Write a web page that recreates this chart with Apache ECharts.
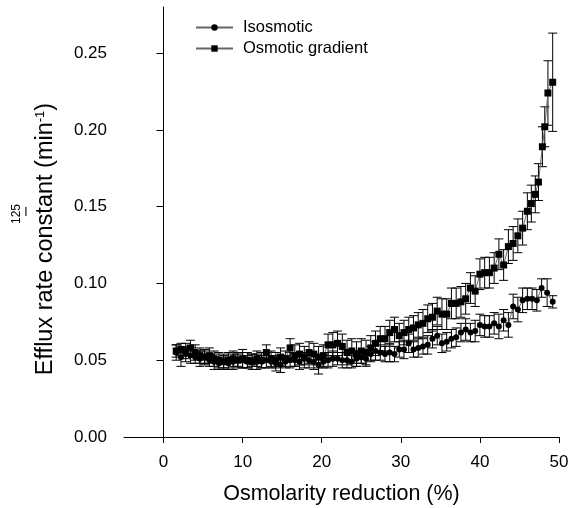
<!DOCTYPE html>
<html>
<head>
<meta charset="utf-8">
<script src="https://cdn.jsdelivr.net/npm/echarts@6/dist/echarts.min.js"></script>
<style>
  html, body { margin: 0; padding: 0; background: #fff; }
  #chart { width: 569px; height: 508px; }
</style>
</head>
<body>
<div id="chart"></div>
<script>
// osmolarity reduction (%) for each sample
var xIso = [1.6, 2.2, 2.8, 3.4, 4.0, 4.6, 5.2, 5.8, 6.4, 7.0, 7.6, 8.2, 8.8, 9.4, 10.0, 10.6, 11.2, 11.8, 12.4, 13.0,
  13.6, 14.2, 14.8, 15.4, 16.0, 16.6, 17.2, 17.8, 18.4, 19.0, 19.6, 20.2, 20.8, 21.4, 22.0, 22.6, 23.2, 23.8, 24.4, 25.0,
  25.6, 26.2, 26.8, 27.4, 28.0, 28.6, 29.2, 29.8, 30.4, 31.0, 31.6, 32.2, 32.8, 33.4, 34.0, 34.6, 35.2, 35.8, 36.4, 37.0,
  37.6, 38.2, 38.8, 39.4, 40.0, 40.6, 41.2, 41.8, 42.4, 43.0, 43.6, 44.2, 44.8, 45.4, 46.0, 46.6, 47.2, 47.8, 48.5, 49.2];
var yIso = [0.055, 0.052, 0.054, 0.053, 0.052, 0.051, 0.052, 0.050, 0.049, 0.048, 0.049, 0.048, 0.049, 0.050, 0.050, 0.049, 0.050, 0.049, 0.049, 0.050,
  0.049, 0.048, 0.047, 0.049, 0.050, 0.050, 0.049, 0.051, 0.050, 0.049, 0.047, 0.049, 0.050, 0.051, 0.051, 0.050, 0.050, 0.049, 0.051, 0.052,
  0.051, 0.054, 0.056, 0.055, 0.054, 0.055, 0.054, 0.057, 0.057, 0.061, 0.057, 0.058, 0.059, 0.060, 0.064, 0.066, 0.061, 0.062, 0.064, 0.065,
  0.068, 0.070, 0.068, 0.069, 0.073, 0.072, 0.072, 0.074, 0.072, 0.076, 0.073, 0.085, 0.083, 0.089, 0.090, 0.090, 0.089, 0.097, 0.094, 0.088];
var eIso = [0.005, 0.006, 0.005, 0.005, 0.004, 0.005, 0.004, 0.004, 0.005, 0.004, 0.004, 0.004, 0.005, 0.004, 0.005, 0.004, 0.004, 0.005, 0.004, 0.005,
  0.004, 0.005, 0.005, 0.004, 0.005, 0.004, 0.005, 0.004, 0.005, 0.005, 0.006, 0.004, 0.005, 0.005, 0.004, 0.005, 0.005, 0.004, 0.005, 0.004,
  0.005, 0.005, 0.006, 0.005, 0.005, 0.006, 0.005, 0.005, 0.006, 0.006, 0.005, 0.006, 0.005, 0.006, 0.006, 0.006, 0.006, 0.006, 0.006, 0.006,
  0.006, 0.007, 0.006, 0.007, 0.007, 0.007, 0.007, 0.007, 0.008, 0.007, 0.008, 0.008, 0.008, 0.008, 0.007, 0.007, 0.007, 0.006, 0.009, 0.004];

var xGrad = [1.6, 2.2, 2.8, 3.4, 4.0, 4.6, 5.2, 5.8, 6.4, 7.0, 7.6, 8.2, 8.8, 9.4, 10.0, 10.6, 11.2, 11.8, 12.4, 13.0,
  13.6, 14.2, 14.8, 15.4, 16.0, 16.6, 17.2, 17.8, 18.4, 19.0, 19.6, 20.2, 20.8, 21.4, 22.0, 22.6, 23.2, 23.8, 24.4, 25.0,
  25.6, 26.2, 26.8, 27.4, 28.0, 28.6, 29.2, 29.8, 30.4, 31.0, 31.6, 32.2, 32.8, 33.4, 34.0, 34.6, 35.2, 35.8, 36.4, 37.0,
  37.6, 38.2, 38.8, 39.4, 40.0, 40.6, 41.2, 41.8, 42.4, 43.0, 43.6, 44.2, 44.8, 45.4, 46.0, 46.5, 47.0, 47.4, 47.9, 48.2, 48.6, 49.2];
var yGrad = [0.056, 0.057, 0.056, 0.058, 0.055, 0.053, 0.052, 0.053, 0.051, 0.050, 0.049, 0.050, 0.051, 0.050, 0.051, 0.050, 0.049, 0.051, 0.050, 0.055,
  0.051, 0.050, 0.052, 0.051, 0.058, 0.053, 0.054, 0.052, 0.055, 0.054, 0.052, 0.053, 0.060, 0.060, 0.061, 0.059, 0.055, 0.056, 0.054, 0.056,
  0.055, 0.058, 0.061, 0.064, 0.064, 0.068, 0.070, 0.066, 0.068, 0.070, 0.071, 0.073, 0.074, 0.077, 0.078, 0.082, 0.080, 0.080, 0.087, 0.087,
  0.088, 0.090, 0.097, 0.095, 0.106, 0.107, 0.107, 0.110, 0.119, 0.112, 0.124, 0.126, 0.131, 0.136, 0.147, 0.152, 0.158, 0.166, 0.189, 0.202, 0.224, 0.231];
var eGrad = [0.004, 0.004, 0.005, 0.005, 0.005, 0.005, 0.005, 0.005, 0.005, 0.005, 0.005, 0.005, 0.005, 0.005, 0.006, 0.005, 0.005, 0.005, 0.005, 0.005,
  0.005, 0.005, 0.006, 0.005, 0.006, 0.007, 0.007, 0.007, 0.007, 0.007, 0.007, 0.007, 0.007, 0.008, 0.008, 0.008, 0.008, 0.008, 0.008, 0.008,
  0.008, 0.008, 0.008, 0.008, 0.008, 0.008, 0.008, 0.008, 0.008, 0.008, 0.008, 0.008, 0.009, 0.009, 0.009, 0.009, 0.010, 0.010, 0.010, 0.010,
  0.010, 0.010, 0.010, 0.010, 0.010, 0.010, 0.010, 0.010, 0.010, 0.010, 0.011, 0.011, 0.011, 0.011, 0.012, 0.012, 0.012, 0.012, 0.013, 0.013, 0.021, 0.032];

var xTicks = [0, 10, 20, 30, 40, 50];
var yTicks = [0, 0.05, 0.10, 0.15, 0.20, 0.25];

var FONT = '"Liberation Sans", Arial, sans-serif';

function pairs(xs, ys) {
  return xs.map(function (x, i) { return [x, ys[i]]; });
}
function triples(xs, ys, es) {
  return xs.map(function (x, i) { return [x, ys[i], es[i]]; });
}

// 误差线
function errorBar(params, api) {
  var x = api.value(0), y = api.value(1), e = api.value(2);
  var hi = api.coord([x, y + e]);
  var lo = api.coord([x, y - e]);
  var w = 4.5;
  var st = { stroke: '#000', lineWidth: 1 };
  return {
    type: 'group',
    children: [
      { type: 'line', shape: { x1: hi[0], y1: hi[1], x2: lo[0], y2: lo[1] }, style: st },
      { type: 'line', shape: { x1: hi[0] - w, y1: hi[1], x2: hi[0] + w, y2: hi[1] }, style: st },
      { type: 'line', shape: { x1: lo[0] - w, y1: lo[1], x2: lo[0] + w, y2: lo[1] }, style: st }
    ]
  };
}

var chart = echarts.init(document.getElementById('chart'));
var option = {
  animation: false,
  backgroundColor: '#fff',
  textStyle: { fontFamily: FONT, color: '#000' },
  grid: { left: 124, right: 10, top: 7, bottom: 71, containLabel: false, outerBoundsMode: 'none' },
  legend: {
    data: ['Isosmotic', 'Osmotic gradient'],
    orient: 'vertical',
    left: 190,
    top: 14,
    itemWidth: 37,
    itemHeight: 8,
    itemGap: 4,
    textStyle: { fontFamily: FONT, fontSize: 16.5, color: '#000', padding: [0, 0, 0, 5] }
  },
  xAxis: {
    type: 'value',
    min: -5,
    max: 50,
    splitLine: { show: false },
    axisLine: { lineStyle: { color: '#000', width: 1 } },
    axisTick: { customValues: xTicks, length: 6, lineStyle: { color: '#000' } },
    axisLabel: { customValues: xTicks, margin: 17, fontSize: 17, color: '#000', fontFamily: FONT },
    name: 'Osmolarity reduction (%)',
    nameLocation: 'middle',
    nameGap: 46,
    nameTextStyle: { fontSize: 21.5, color: '#000', fontFamily: FONT }
  },
  yAxis: {
    type: 'value',
    min: 0,
    max: 0.28,
    splitLine: { show: false },
    axisLine: { show: true, lineStyle: { color: '#000', width: 1 } },
    axisTick: { show: true, customValues: yTicks, length: 7, lineStyle: { color: '#000' } },
    axisLabel: {
      customValues: yTicks, margin: 17, fontSize: 17, color: '#000', fontFamily: FONT,
      formatter: function (v) { return v.toFixed(2); }
    }
  },
  graphic: [
    {
      type: 'text',
      x: 46, y: 239,
      rotation: Math.PI / 2,
      style: {
        text: '{a|Efflux rate constant (min}{s|-1}{a|)}',
        align: 'center',
        verticalAlign: 'middle',
        rich: {
          a: { fontSize: 23.5, fontFamily: FONT, fill: '#000' },
          s: { fontSize: 13, fontFamily: FONT, fill: '#000', verticalAlign: 'top', padding: [0, 0, 10, 0] }
        }
      }
    },
    {
      type: 'text',
      x: 17, y: 214,
      rotation: Math.PI / 2,
      style: { text: '125', fontSize: 12, fontFamily: FONT, fill: '#000', align: 'center', verticalAlign: 'middle' }
    },
    {
      type: 'text',
      x: 26, y: 213,
      style: { text: 'I', fontSize: 12, fontFamily: FONT, fill: '#000', align: 'center', verticalAlign: 'middle' }
    }
  ],
  series: [
    {
      type: 'custom',
      renderItem: errorBar,
      data: triples(xIso, yIso, eIso),
      z: 1,
      silent: true
    },
    {
      type: 'custom',
      renderItem: errorBar,
      data: triples(xGrad, yGrad, eGrad),
      z: 1,
      silent: true
    },
    {
      name: 'Isosmotic',
      type: 'line',
      data: pairs(xIso, yIso),
      symbol: 'circle',
      symbolSize: 6,
      itemStyle: { color: '#000' },
      lineStyle: { color: '#666', width: 1 },
      z: 3
    },
    {
      name: 'Osmotic gradient',
      type: 'line',
      data: pairs(xGrad, yGrad),
      symbol: 'rect',
      symbolSize: 7,
      itemStyle: { color: '#000' },
      lineStyle: { color: '#666', width: 1 },
      z: 3
    }
  ]
};
chart.setOption(option);
</script>
</body>
</html>
